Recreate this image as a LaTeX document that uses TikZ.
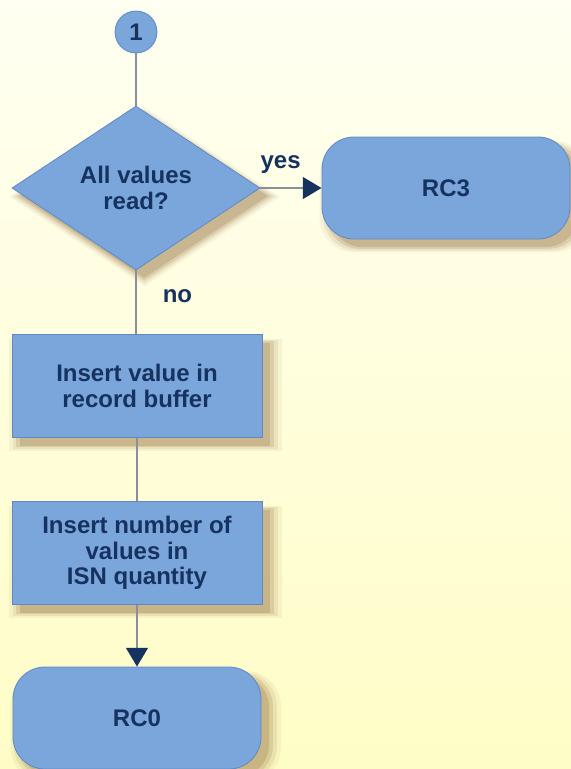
\documentclass[tikz,border=0pt]{standalone}
\usepackage{fontspec}
\setmainfont{Liberation Sans}
\usetikzlibrary{arrows.meta, positioning, calc, shapes.geometric, shadows}

\definecolor{bgtop}{RGB}{255,255,242}
\definecolor{bgbottom}{RGB}{255,253,198}
\definecolor{boxfill}{RGB}{123,166,220}
\definecolor{boxline}{RGB}{96,136,196}
\definecolor{navy}{RGB}{22,50,94}
\definecolor{flowline}{RGB}{138,143,153}
\definecolor{shadowc}{RGB}{140,100,50}

\begin{document}
\begin{tikzpicture}[
    x=0.75pt, y=-0.75pt,
    % Soft shadow built from a few stacked layers
    soft shadow/.style={
        general shadow={shadow xshift=6pt, shadow yshift=-6pt, shadow scale=1.00, fill=shadowc, opacity=0.22},
        general shadow={shadow xshift=6pt, shadow yshift=-6pt, shadow scale=1.03, fill=shadowc, opacity=0.16},
        general shadow={shadow xshift=6pt, shadow yshift=-6pt, shadow scale=1.06, fill=shadowc, opacity=0.11},
        general shadow={shadow xshift=6pt, shadow yshift=-6pt, shadow scale=1.09, fill=shadowc, opacity=0.07}},
    % Shared look of all flowchart shapes
    base/.style={draw=boxline, line width=0.6pt, fill=boxfill, text=navy, font=\fontsize{18}{19}\selectfont\bfseries, align=center, inner sep=0pt},
    conn_node/.style={base, circle, minimum size=31.5pt},
    dec_node/.style={base, soft shadow, diamond, minimum width=186pt, minimum height=123pt},
    proc_node/.style={base, soft shadow, rectangle, minimum width=187.5pt, minimum height=77.25pt},
    end_node/.style={base, soft shadow, rectangle, rounded corners=24pt, minimum width=186pt, minimum height=76.5pt},
    flow/.style={draw=flowline, line width=2.2pt},
    tip/.style={-{Triangle[color=navy, length=14pt, width=16pt]}},
    lbl/.style={text=navy, font=\fontsize{18}{19}\selectfont\bfseries, inner sep=0pt}
]

    % --- Background ---
    \shade[top color=bgtop, bottom color=bgbottom] (0,0) rectangle (571,769);
    \useasboundingbox (0,0) rectangle (571,769);

    % --- Nodes ---
    \node[conn_node] (c1) at (136,32) {1};
    \node[dec_node] (read) at ($(c1) + (0,156)$) {All values\\read?};
    \node[end_node] (rc3) at ($(read) + (310,0)$) {RC3};
    \node[proc_node] (ins_val) at ($(read) + (1,198)$) {Insert value in\\record buffer};
    \node[proc_node] (ins_num) at ($(ins_val) + (0,167)$) {Insert number of\\values in\\ISN quantity};
    \node[end_node] (rc0) at ($(ins_num) + (0,165)$) {RC0};

    % --- Connectors ---
    \draw[flow] (c1) -- (read);
    \draw[flow, tip] (read.east) -- node[pos=0.33, above=10pt, lbl] {yes} (rc3.west);
    \draw[flow] (read.south) -- node[pos=0.4, right=19pt, lbl] {no} (read.south |- ins_val.north);
    \draw[flow] (ins_val) -- (ins_num);
    \draw[flow, tip] (ins_num.south -| rc0.north) -- (rc0.north);

\end{tikzpicture}
\end{document}
